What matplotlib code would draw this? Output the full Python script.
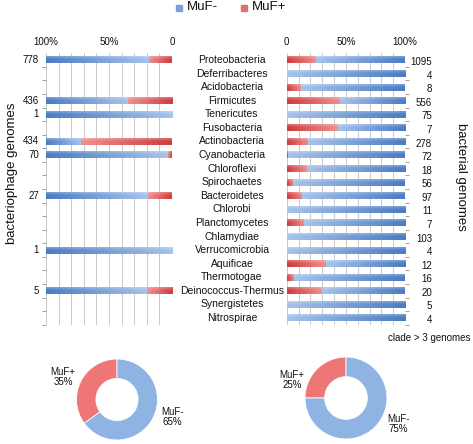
import matplotlib
matplotlib.use('Agg')
import matplotlib.pyplot as plt
import matplotlib.transforms as mtrans
import numpy as np
from matplotlib.colors import to_rgb

plt.rcParams['font.family'] = ['Liberation Sans', 'DejaVu Sans']

# ---------------- data ----------------
categories = ['Proteobacteria', 'Deferribacteres', 'Acidobacteria', 'Firmicutes',
              'Tenericutes', 'Fusobacteria', 'Actinobacteria', 'Cyanobacteria',
              'Chloroflexi', 'Spirochaetes', 'Bacteroidetes', 'Chlorobi',
              'Planctomycetes', 'Chlamydiae', 'Verrucomicrobia', 'Aquificae',
              'Thermotogae', 'Deinococcus-Thermus', 'Synergistetes', 'Nitrospirae']
bacterial_counts = [1095, 4, 8, 556, 75, 7, 278, 72, 18, 56, 97, 11, 7, 103, 4,
                    12, 16, 20, 5, 4]
bacterial_muf_plus = [25, 0, 12.5, 45, 0, 43, 18, 1.5, 17, 5.5, 13, 0, 14.5, 0, 0,
                      33, 6.5, 30, 0, 0]
phage_counts = [778, None, None, 436, 1, None, 434, 70, None, None, 27, None,
                None, None, 1, None, None, 5, None, None]
phage_muf_plus = [18, None, None, 35, 0, None, 72, 3, None, None, 19, None,
                  None, None, 0, None, None, 20, None, None]
pie_labels = ['MuF+', 'MuF-']
phage_pie = [35, 65]
bacterial_pie = [25, 75]
left_ticks = ['100%', '50%', '0']
right_ticks = ['0', '50%', '100%']

# ---------------- style ----------------
W, H = 473, 444
BLUE_D, BLUE_L = to_rgb('#4a7cc3'), to_rgb('#a6c3ea')
RED_D, RED_L = to_rgb('#d03b3b'), to_rgb('#ee9090')
GRID = '#c9c9c9'
TXT = '#111111'

fig = plt.figure(figsize=(W / 100, H / 100), dpi=100)


def fx(px):
    return px / W


def fy(py):
    return 1 - py / H


def grad_bar(ax, x0, x1, y, h, c0, c1):
    if x0 == x1:
        return
    n = 64
    t = np.linspace(0, 1, n)[None, :, None]
    c0 = np.array(c0)[None, None, :]
    c1 = np.array(c1)[None, None, :]
    row = (1 - t) * c0 + t * c1
    m = 8
    v = np.linspace(0, 1, m)[:, None, None]
    light = 0.25 * np.clip(1 - 2.2 * v, 0, 1)
    arr = row * (1 - light) + light
    arr = np.clip(arr, 0, 1)
    ax.imshow(arr, extent=(x0, x1, y + h / 2, y - h / 2), aspect='auto',
              interpolation='bilinear', zorder=3)


n = len(categories)
rows = np.arange(n)
bar_h = 0.5
top_px, bot_px = 53.2, 324.8

axL = fig.add_axes([fx(46), fy(bot_px), fx(126), (bot_px - top_px) / H])
axR = fig.add_axes([fx(286.7), fy(bot_px), fx(118.3), (bot_px - top_px) / H])

for ax in (axL, axR):
    for s in ax.spines.values():
        s.set_visible(False)
    ax.set_xticks(np.arange(0, 101, 10))
    ax.grid(axis='x', color=GRID, linewidth=0.7, zorder=0)
    ax.xaxis.tick_top()
    ax.tick_params(axis='x', length=0, pad=4.5, labelsize=7, colors=TXT)
    ax.set_yticks(rows + 0.5)
    ax.set_yticklabels([])
    ax.tick_params(axis='y', length=3, color='#a0a0a0', width=0.7)
    ax.set_axisbelow(True)

labL = [''] * 11
labL[0], labL[5], labL[10] = right_ticks[0], right_ticks[1], right_ticks[2]
axL.set_xticklabels(labL)
axR.set_xticklabels(labL)
axR.yaxis.tick_right()

# left panel (bacteriophage genomes)
for i, (c, p) in enumerate(zip(phage_counts, phage_muf_plus)):
    if c is None:
        continue
    grad_bar(axL, 100, p, i, bar_h, BLUE_D, BLUE_L)
    grad_bar(axL, p, 0, i, bar_h, RED_L, RED_D)
    axL.text(-0.056, i, str(c), transform=mtrans.blended_transform_factory(
        axL.transAxes, axL.transData), ha='right', va='center', fontsize=7,
        color=TXT)
axL.set_xlim(100, 0)
axL.set_ylim(n - 0.5, -0.5)

# right panel (bacterial genomes)
for i, (c, p) in enumerate(zip(bacterial_counts, bacterial_muf_plus)):
    grad_bar(axR, 0, p, i, bar_h, RED_D, RED_L)
    grad_bar(axR, p, 100, i, bar_h, BLUE_L, BLUE_D)
    axR.text(1.228, i + 0.15, str(c), transform=mtrans.blended_transform_factory(
        axR.transAxes, axR.transData), ha='right', va='center', fontsize=7,
        color=TXT)
axR.set_xlim(0, 100)
axR.set_ylim(n - 0.5, -0.5)

# category labels in the middle
tr = mtrans.blended_transform_factory(fig.transFigure, axR.transData)
for i, name in enumerate(categories):
    axR.text(fx(232), i, name, transform=tr, ha='center', va='center',
             fontsize=7.5, color=TXT, clip_on=False)

# axis titles
fig.text(fx(12), fy(173), 'bacteriophage genomes', rotation=90, ha='center',
         va='center', fontsize=9.5, color=TXT)
fig.text(fx(461), fy(177), 'bacterial genomes', rotation=270, ha='center',
         va='center', fontsize=9.5, color=TXT)
fig.text(fx(470), fy(338), 'clade > 3 genomes', ha='right', va='center',
         fontsize=7, color=TXT)

# legend
fig.patches.append(plt.Rectangle((fx(176), fy(11)), fx(6), 6 / H,
                                 transform=fig.transFigure, color='#7aa0d8'))
fig.text(fx(187), fy(7), 'MuF-', ha='left', va='center', fontsize=9.5, color=TXT)
fig.patches.append(plt.Rectangle((fx(241), fy(11)), fx(6), 6 / H,
                                 transform=fig.transFigure, color='#e07070'))
fig.text(fx(252), fy(7), 'MuF+', ha='left', va='center', fontsize=9.5, color=TXT)

# pies
PIE_COLORS = ['#ee7676', '#8fb4e4']


def donut(cx, cy, r, values, label_pos):
    ax = fig.add_axes([fx(cx - r), fy(cy + r), fx(2 * r), 2 * r / H])
    ax.pie(values, colors=PIE_COLORS, startangle=90, counterclock=True,
           radius=1, wedgeprops=dict(width=0.48, edgecolor='white',
                                     linewidth=0.6))
    ax.set_xlim(-1, 1)
    ax.set_ylim(-1, 1)
    ax.set_aspect('equal')
    ax.axis('off')
    for lab, v, (px, py) in zip(pie_labels, values, label_pos):
        fig.text(fx(px), fy(py), f'{lab}\n{v}%', ha='center', va='center',
                 fontsize=7, color=TXT, linespacing=1.1)


donut(117, 399.5, 40.5, phage_pie, [(63, 377), (172, 417)])
donut(346, 398, 41, bacterial_pie, [(292, 380), (398, 424)])

fig.savefig('out.png', dpi=100)
